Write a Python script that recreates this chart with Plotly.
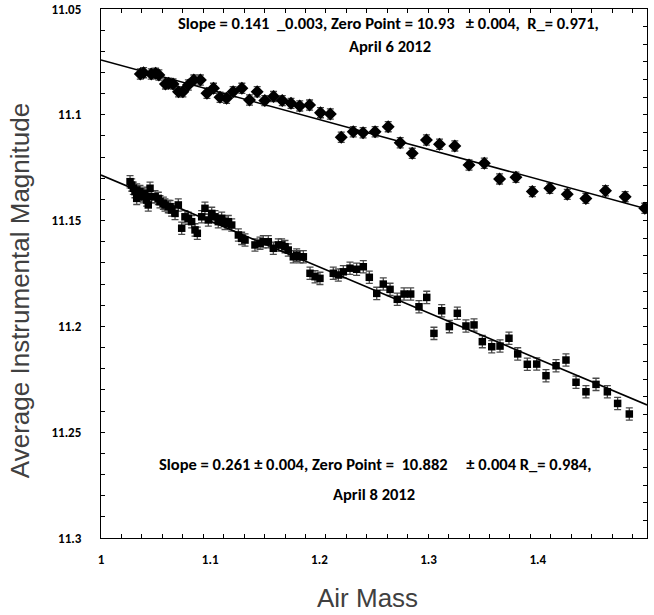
import plotly.graph_objects as go

# ---- data ----
apr6_x = [1.036, 1.039, 1.046, 1.050, 1.053, 1.059, 1.062, 1.066, 1.071, 1.075,
          1.080, 1.085, 1.091, 1.097, 1.103, 1.109, 1.115, 1.121, 1.129, 1.136,
          1.143, 1.150, 1.158, 1.166, 1.174, 1.182, 1.191, 1.201, 1.210, 1.220,
          1.231, 1.240, 1.251, 1.263, 1.274, 1.285, 1.298, 1.310, 1.324, 1.337,
          1.351, 1.365, 1.380, 1.395, 1.411, 1.427, 1.444, 1.462, 1.480, 1.498]
apr6_y = [11.0807, 11.0801, 11.0807, 11.0804, 11.0812, 11.0854, 11.0851, 11.0854, 11.0891, 11.0891,
          11.0859, 11.0836, 11.0836, 11.0898, 11.0875, 11.0917, 11.0922, 11.0891, 11.0875, 11.0930,
          11.0891, 11.0933, 11.0914, 11.0933, 11.0946, 11.0958, 11.0954, 11.0990, 11.0996, 11.1106,
          11.1080, 11.1085, 11.1080, 11.1056, 11.1132, 11.1182, 11.1119, 11.1139, 11.1147, 11.1237,
          11.1229, 11.1303, 11.1295, 11.1363, 11.1347, 11.1376, 11.1395, 11.1359, 11.1387, 11.1442]

apr8_x = [1.0266, 1.0281, 1.0296, 1.0311, 1.0327, 1.0342, 1.0357, 1.0372, 1.0327, 1.0387,
          1.0403, 1.0418, 1.0433, 1.0449, 1.0464, 1.0495, 1.0525, 1.0540, 1.0571, 1.0586,
          1.0616, 1.0632, 1.0647, 1.0678, 1.0708, 1.0739, 1.0769, 1.0799, 1.0830, 1.0861,
          1.0882, 1.0922, 1.0952, 1.0983, 1.1014, 1.1044, 1.1074, 1.1105, 1.1136, 1.1166,
          1.1197, 1.1258, 1.1288, 1.1319, 1.1410, 1.1456, 1.1486, 1.1532, 1.1578, 1.1624,
          1.1654, 1.1685, 1.1715, 1.1761, 1.1792, 1.1822, 1.1853, 1.1914, 1.1960, 1.2005,
          1.2127, 1.2173, 1.2219, 1.2280, 1.2341, 1.2402, 1.2457, 1.2525, 1.2585, 1.2647,
          1.2713, 1.2775, 1.2836, 1.2912, 1.2983, 1.3049, 1.3120, 1.3190, 1.3263, 1.3342,
          1.3416, 1.3492, 1.3578, 1.3654, 1.3736, 1.3816, 1.3904, 1.3990, 1.4075, 1.4167,
          1.4258, 1.4350, 1.4441, 1.4533, 1.4637, 1.4731, 1.4838]
apr8_y = [11.1316, 11.1332, 11.1347, 11.1363, 11.1355, 11.1371, 11.1363, 11.1379, 11.1395, 11.1387,
          11.1371, 11.1403, 11.1426, 11.1347, 11.1387, 11.1387, 11.1395, 11.1411, 11.1418, 11.1426,
          11.1434, 11.1434, 11.1450, 11.1466, 11.1426, 11.1536, 11.1482, 11.1489, 11.1505, 11.1544,
          11.1560, 11.1482, 11.1442, 11.1497, 11.1466, 11.1482, 11.1505, 11.1489, 11.1513, 11.1505,
          11.1521, 11.1568, 11.1584, 11.1592, 11.1615, 11.1607, 11.1600, 11.1600, 11.1631, 11.1615,
          11.1615, 11.1623, 11.1639, 11.1671, 11.1663, 11.1671, 11.1671, 11.1749, 11.1765, 11.1773,
          11.1749, 11.1757, 11.1742, 11.1725, 11.1730, 11.1718, 11.1768, 11.1844, 11.1800, 11.1825,
          11.1872, 11.1847, 11.1847, 11.1907, 11.1863, 11.2033, 11.1926, 11.2001, 11.1938, 11.1998,
          11.1993, 11.2072, 11.2096, 11.2093, 11.2056, 11.2130, 11.2179, 11.2178, 11.2233, 11.2186,
          11.2159, 11.2264, 11.2309, 11.2274, 11.2309, 11.2364, 11.2414]

apr6_err = 0.0024
apr8_err = 0.0029

fit_x = [1.0, 1.5]
fit6_y = [11.0741, 11.1445]
fit8_y = [11.1285, 11.2371]

y_ticks = [11.05, 11.1, 11.15, 11.2, 11.25, 11.3]
y_ticktext = ["11.05", "11.1", "11.15", "11.2", "11.25", "11.3"]
x_ticks = [1.0, 1.1, 1.2, 1.3, 1.4, 1.5]
x_ticktext = ["1", "1.1", "1.2", "1.3", "1.4", "1.5"]

text6_l1 = "Slope = 0.141\u00a0 _0.003, Zero Point = 10.93\u00a0\u00a0 \u00b1 0.004,\u00a0 R_= 0.971,"
text6_l2 = "April 6 2012"
text8_l1 = "Slope = 0.261 \u00b1 0.004, Zero Point =\u00a0 10.882\u00a0\u00a0\u00a0\u00a0 \u00b1 0.004 R_= 0.984,"
text8_l2 = "April 8 2012"
x_title = "Air Mass"
y_title = "Average Instrumental Magnitude"

# ---- figure ----
bold_font = "Carlito, 'Liberation Sans Narrow', 'DejaVu Sans Condensed', sans-serif"
title_font = "'Liberation Sans', Arial, sans-serif"

fig = go.Figure()

fig.add_trace(go.Scatter(
    x=apr6_x, y=apr6_y, mode="markers",
    marker=dict(symbol="diamond", size=10, color="black"),
    error_y=dict(type="constant", value=apr6_err, color="#4a4a4a", thickness=1.3, width=3.5),
    showlegend=False, hoverinfo="skip"))

fig.add_trace(go.Scatter(
    x=apr8_x, y=apr8_y, mode="markers",
    marker=dict(symbol="square", size=7.5, color="black"),
    error_y=dict(type="constant", value=apr8_err, color="#4a4a4a", thickness=1.3, width=3.5),
    showlegend=False, hoverinfo="skip"))

fig.add_trace(go.Scatter(x=fit_x, y=fit6_y, mode="lines",
                         line=dict(color="black", width=1.6), showlegend=False, hoverinfo="skip"))
fig.add_trace(go.Scatter(x=fit_x, y=fit8_y, mode="lines",
                         line=dict(color="black", width=1.6), showlegend=False, hoverinfo="skip"))

# dummy trace so the secondary tick axes are drawn
fig.add_trace(go.Scatter(x=[None], y=[None], xaxis="x2", yaxis="y2",
                         showlegend=False, hoverinfo="skip"))


def note(text, x, y, size, family, color="black", weight="bold", angle=0):
    return dict(text=text, xref="paper", yref="paper", x=x, y=y,
                xanchor="center", yanchor="middle", showarrow=False, textangle=angle,
                font=dict(family=family, size=size, color=color, weight=weight))


fig.update_layout(
    width=654, height=615,
    margin=dict(l=101, r=7, t=9, b=77, autoexpand=False),
    paper_bgcolor="white", plot_bgcolor="white",
    xaxis=dict(
        range=[1.0, 1.5], tickvals=x_ticks, ticktext=x_ticktext,
        ticks="", showgrid=False, zeroline=False, automargin=False,
        showline=True, linecolor="black", linewidth=1.2, mirror=True,
        tickfont=dict(family=bold_font, size=13, color="black", weight="bold"),
        ticklabelstandoff=9,
    ),
    xaxis2=dict(
        range=[0, 26.7], dtick=1, overlaying="x", side="bottom", anchor="y",
        ticks="inside", ticklen=4, tickcolor="black", mirror="ticks", automargin=False,
        showticklabels=False, showgrid=False, zeroline=False, showline=False,
    ),
    yaxis=dict(
        range=[11.3, 11.05], tickvals=y_ticks, ticktext=y_ticktext,
        ticks="inside", ticklen=4, tickcolor="black", automargin=False,
        minor=dict(dtick=0.01, ticks="inside", ticklen=4, tickcolor="black", showgrid=False),
        showgrid=False, zeroline=False,
        showline=True, linecolor="black", linewidth=1.2,
        tickfont=dict(family=bold_font, size=13, color="black", weight="bold"),
        ticklabelstandoff=16,
    ),
    yaxis2=dict(
        range=[0, 30], dtick=1, overlaying="y", side="right", anchor="x",
        ticks="inside", ticklen=4, tickcolor="black", automargin=False,
        showticklabels=False, showgrid=False, zeroline=False,
        showline=True, linecolor="black", linewidth=1.2,
    ),
    annotations=[
        note(text6_l1, 0.5266, 0.9735, 16.5, bold_font),
        note(text6_l2, 0.5293, 0.9301, 16.5, bold_font),
        note(text8_l1, 0.5018, 0.1399, 16.5, bold_font),
        note(text8_l2, 0.5000, 0.0832, 16.5, bold_font),
        note(x_title, 0.489, -0.1134, 26, title_font, color="#404040", weight="normal"),
        note(y_title, -0.148, 0.467, 26, title_font, color="#404040", weight="normal", angle=-90),
    ],
)

fig.write_html("out.html", config={"displayModeBar": False},
               post_script="document.body.style.margin='0px';")
